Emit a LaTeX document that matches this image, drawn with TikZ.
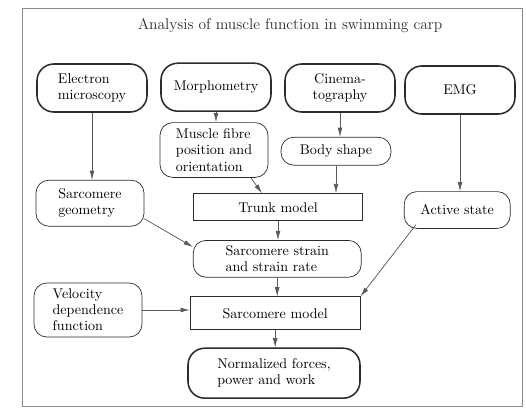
\documentclass[tikz,border=0pt]{standalone}
\usepackage{tikz}
\usetikzlibrary{positioning, arrows.meta, calc}
\definecolor{ink}{HTML}{2B2B2B}
\definecolor{wire}{HTML}{5A5A5A}
\definecolor{edge}{HTML}{8A8A8A}
\tikzset{
  src/.style={draw=ink, rounded corners=0.42cm, align=left, font=\fontsize{10}{11.5}\selectfont,
              minimum width=2.75cm, minimum height=1.2cm, inner sep=2pt, line width=1.1pt},
  dat/.style={draw=ink, rounded corners=0.32cm, align=left, font=\fontsize{10}{11.5}\selectfont,
              minimum width=2.7cm, minimum height=0.7cm, inner sep=2pt, line width=0.5pt},
  mdl/.style={draw=ink, rectangle, align=center, font=\fontsize{10}{11.5}\selectfont,
              minimum width=4.22cm, minimum height=0.7cm, inner sep=2pt, line width=0.6pt},
  arr/.style={-{Latex[length=2.3mm, width=1.2mm]}, line width=0.5pt, draw=wire, fill=wire},
}
\begin{document}
\begin{tikzpicture}
        \useasboundingbox (0,0) rectangle (13.15,-10.3);
        \draw[edge, line width=0.6pt] (0.55,-0.22) rectangle (13.05,-10.17);
        \node[font=\fontsize{11}{13}\selectfont, text=ink] (ttl) at (7.25,-0.63) {Analysis of muscle function in swimming carp};
        % data sources
        \node[src] (em)   at (2.3,-2.2)  {Electron\\microscopy};
        \node[src] (mor)  at (5.4,-2.18) {Morphometry};
        \node[src, align=center] (cin)  at (8.5,-2.2)  {Cinema-\\tography};
        \node[src] (emg)  at (11.5,-2.25) {EMG};
        % derived data
        \node[dat, minimum height=1.37cm] (fib) at (5.35,-3.75) {Muscle fibre\\position and\\orientation};
        \node[dat, minimum width=2.75cm] (bod) at (8.4,-3.78) {Body shape};
        \node[dat, minimum height=1.15cm] (sgm) at (2.25,-5.08) {Sarcomere\\geometry};
        \node[dat, minimum width=2.65cm, minimum height=0.92cm] (act) at (11.43,-5.25) {Active state};
        \node[dat, minimum width=4.2cm, minimum height=0.92cm] (str) at (6.93,-6.47) {Sarcomere strain\\and strain rate};
        \node[dat, minimum height=1.35cm] (vel) at (2.2,-7.75) {Velocity\\dependence\\function};
        % models and result
        \node[mdl, minimum height=0.68cm] (trk) at (6.95,-5.18) {Trunk model};
        \node[mdl, minimum width=4.25cm, minimum height=0.82cm] (smd) at (6.88,-7.83) {Sarcomere model};
        \node[src, minimum width=4.3cm, minimum height=1.25cm] (out) at (6.85,-9.33) {Normalized forces,\\power and work};
        \draw[arr] (em.south) -- (em.south |- sgm.north);
        \draw[arr] (mor.south) -- (mor.south |- fib.north);
        \draw[arr] (cin.south) -- (cin.south |- bod.north);
        \draw[arr] (emg.south) -- (emg.south |- act.north);
        \draw[arr] (fib.-37) -- ([xshift=-0.4cm]trk.north);
        \draw[arr] (bod.south) -- (bod.south |- trk.north);
        \draw[arr] (sgm.-16) -- (str.172);
        \draw[arr] (trk.south) -- (trk.south |- str.north);
        \draw[arr] ([xshift=0.3cm, yshift=0.1cm]act.south west) -- (smd.north east);
        \draw[arr] (str.south) -- (str.south |- smd.north);
        \draw[arr] (vel.east) -- (vel.east -| smd.west);
        \draw[arr] (smd.south) -- (smd.south |- out.north);
      \end{tikzpicture}
\end{document}
